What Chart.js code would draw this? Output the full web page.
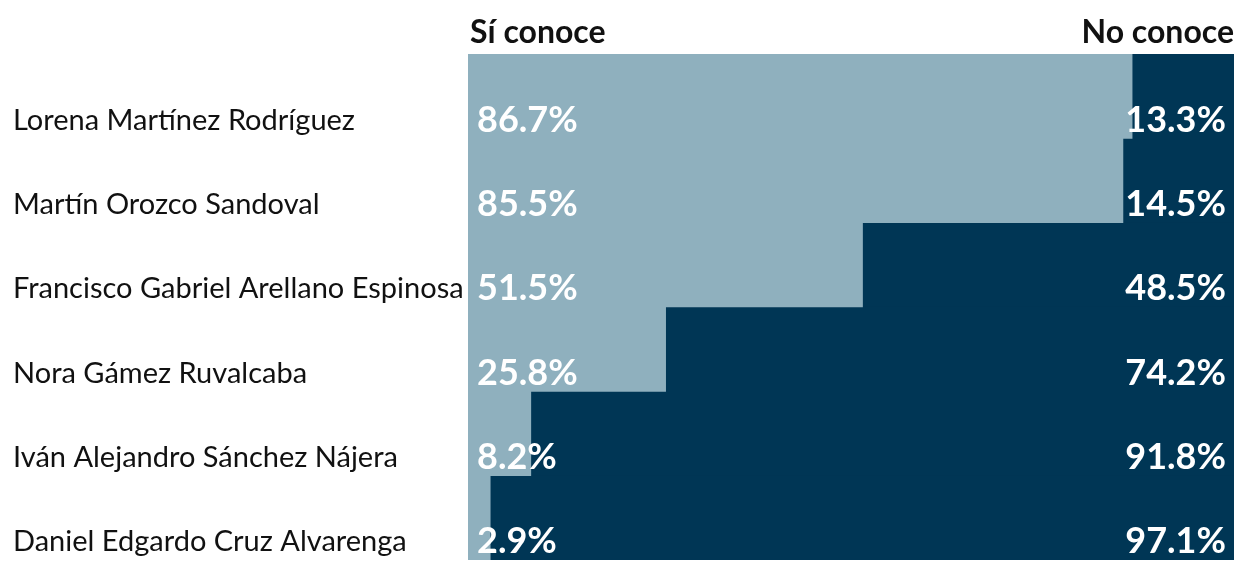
<!DOCTYPE html>
<html>
<head>
<meta charset="utf-8">
<script src="https://cdn.jsdelivr.net/npm/chart.js@4"></script>
<style>
  html, body { margin: 0; padding: 0; background: #fff; }
  #wrap { width: 1238px; height: 563px; }
</style>
</head>
<body>
<div id="wrap"><canvas id="barChart"></canvas></div>
<script>
const NAMES = ["Lorena Martínez Rodríguez", "Martín Orozco Sandoval", "Francisco Gabriel Arellano Espinosa", "Nora Gámez Ruvalcaba", "Iván Alejandro Sánchez Nájera", "Daniel Edgardo Cruz Alvarenga"];
const SI_CONOCE = [86.7, 85.5, 51.5, 25.8, 8.2, 2.9];
const NO_CONOCE = [13.3, 14.5, 48.5, 74.2, 91.8, 97.1];
const HEADERS = ["Sí conoce", "No conoce"];

const FONT = "Lato";

// white values inside the bars + the two column headers
const labelsPlugin = {
    id: 'labelsPlugin',
    afterDatasetsDraw(chart) {
        const ctx = chart.ctx;
        const area = chart.chartArea;
        const y = chart.scales.y;
        ctx.save();
        ctx.fillStyle = "#fff";
        ctx.font = "bold 36px " + FONT;
        ctx.textBaseline = "middle";
        NAMES.forEach((n, i) => {
            const cy = y.getPixelForValue(i) + 24;
            ctx.textAlign = "left";
            ctx.fillText(SI_CONOCE[i].toFixed(1) + "%", area.left + 9, cy);
            ctx.textAlign = "right";
            ctx.fillText(NO_CONOCE[i].toFixed(1) + "%", area.right - 8, cy);
        });
        ctx.fillStyle = "#111";
        ctx.font = "bold 32px " + FONT;
        ctx.textBaseline = "alphabetic";
        ctx.textAlign = "left";
        ctx.fillText(HEADERS[0], area.left + 2, 43);
        ctx.textAlign = "right";
        ctx.fillText(HEADERS[1], area.right, 43);
        ctx.restore();
    }
};

const CHART = document.getElementById("barChart");

let barChart = new Chart(CHART, {
    type: 'bar',
    data: {
        labels: NAMES,
        datasets: [
            {
                label: HEADERS[0],
                data: SI_CONOCE,
                backgroundColor: "#8fb0be",
                borderWidth: 0,
                categoryPercentage: 1.0,
                barPercentage: 1.0
            }, {
                label: HEADERS[1],
                data: NO_CONOCE,
                backgroundColor: "#003655",
                borderWidth: 0,
                categoryPercentage: 1.0,
                barPercentage: 1.0
            }
        ]
    },
    options: {
        indexAxis: 'y',
        responsive: true,
        maintainAspectRatio: false,
        animation: false,
        layout: {
            padding: { left: 13, right: 4, top: 54, bottom: 3 }
        },
        plugins: {
            legend: { display: false },
            tooltip: { enabled: false }
        },
        scales: {
            x: {
                stacked: true,
                min: 0,
                max: 100,
                display: false
            },
            y: {
                stacked: true,
                grid: { display: false, drawTicks: false },
                border: { display: false },
                ticks: {
                    crossAlign: 'far',
                    labelOffset: 24,
                    color: "#111",
                    font: { family: FONT, size: 29 }
                },
                afterFit(scale) {
                    scale.width = 455;
                    scale.paddingTop = 0;
                    scale.paddingBottom = 0;
                }
            }
        }
    },
    plugins: [labelsPlugin]
});
</script>
</body>
</html>
